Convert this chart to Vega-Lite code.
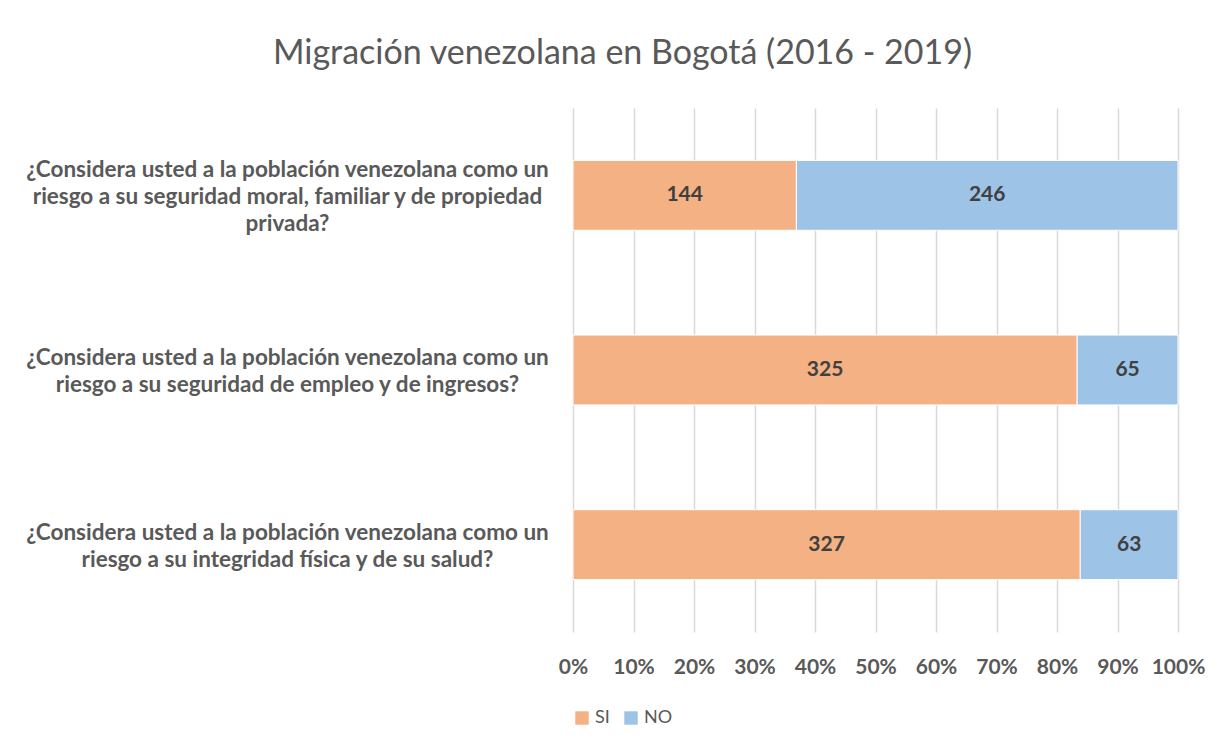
{
  "$schema": "https://vega.github.io/schema/vega-lite/v6.json",
  "autosize": "none",
  "width": 605,
  "height": 524,
  "padding": {"left": 573, "top": 108, "right": 45, "bottom": 119},
  "background": "white",
  "title": {
    "text": "Migración venezolana en Bogotá (2016 - 2019)",
    "anchor": "middle",
    "frame": "group",
    "dx": -253,
    "offset": 37,
    "font": "Lato",
    "fontSize": 34,
    "fontWeight": "normal",
    "color": "#595959"
  },
  "data": {
    "values": [
      {"q": "¿Considera usted a la población venezolana como un|riesgo a su seguridad moral, familiar y de propiedad|privada?", "resp": "SI", "n": 144, "o": 1},
      {"q": "¿Considera usted a la población venezolana como un|riesgo a su seguridad moral, familiar y de propiedad|privada?", "resp": "NO", "n": 246, "o": 2},
      {"q": "¿Considera usted a la población venezolana como un|riesgo a su seguridad de empleo y de ingresos?", "resp": "SI", "n": 325, "o": 1},
      {"q": "¿Considera usted a la población venezolana como un|riesgo a su seguridad de empleo y de ingresos?", "resp": "NO", "n": 65, "o": 2},
      {"q": "¿Considera usted a la población venezolana como un|riesgo a su integridad física y de su salud?", "resp": "SI", "n": 327, "o": 1},
      {"q": "¿Considera usted a la población venezolana como un|riesgo a su integridad física y de su salud?", "resp": "NO", "n": 63, "o": 2}
    ]
  },
  "encoding": {
    "y": {
      "field": "q",
      "type": "nominal",
      "sort": null,
      "scale": {"paddingInner": 0.6, "paddingOuter": 0.3},
      "axis": {
        "title": null,
        "domain": false,
        "ticks": false,
        "labelExpr": "split(datum.value, '|')",
        "labelAlign": "center",
        "labelBaseline": "middle",
        "labelPadding": 286,
        "labelLimit": 700,
        "labelOffset": {"condition": {"test": "indexof(datum.value, 'privada') >= 0", "value": -25}, "value": -12},
        "labelFont": "Lato",
        "labelFontSize": 22.5,
        "labelFontWeight": "bold",
        "labelColor": "#595959",
        "labelLineHeight": 27
      }
    },
    "x": {
      "field": "n",
      "type": "quantitative",
      "stack": "normalize",
      "scale": {"domain": [0, 1]},
      "axis": {
        "title": null,
        "format": ".0%",
        "values": [0, 0.1, 0.2, 0.3, 0.4, 0.5, 0.6, 0.7, 0.8, 0.9, 1],
        "labelOverlap": false,
        "domain": false,
        "ticks": false,
        "grid": true,
        "gridColor": "#D9D9D9",
        "gridWidth": 1.5,
        "labelPadding": 24,
        "labelFont": "Lato",
        "labelFontSize": 21,
        "labelFontWeight": "bold",
        "labelColor": "#595959",
        "labelFlush": false
      }
    },
    "order": {"field": "o", "type": "quantitative"}
  },
  "layer": [
    {
      "mark": {"type": "bar", "stroke": "white", "strokeWidth": 1},
      "encoding": {
        "color": {
          "field": "resp",
          "type": "nominal",
          "sort": ["SI", "NO"],
          "scale": {"domain": ["SI", "NO"], "range": ["#F4B183", "#9DC3E6"]},
          "legend": {
            "title": null,
            "orient": "none",
            "direction": "horizontal",
            "legendX": 0,
            "legendY": 601,
            "symbolType": "square",
            "symbolSize": 180,
            "symbolStrokeWidth": 0,
            "labelFont": "Lato",
            "labelFontSize": 18,
            "labelColor": "#595959",
            "columnPadding": 12,
            "labelOffset": 4
          }
        }
      }
    },
    {
      "mark": {"type": "text", "font": "Lato", "fontSize": 21, "fontWeight": "bold", "color": "#404040"},
      "encoding": {
        "x": {"field": "n", "type": "quantitative", "stack": "normalize", "bandPosition": 0.5},
        "text": {"field": "n", "type": "quantitative"}
      }
    }
  ],
  "config": {"view": {"stroke": null}}
}
